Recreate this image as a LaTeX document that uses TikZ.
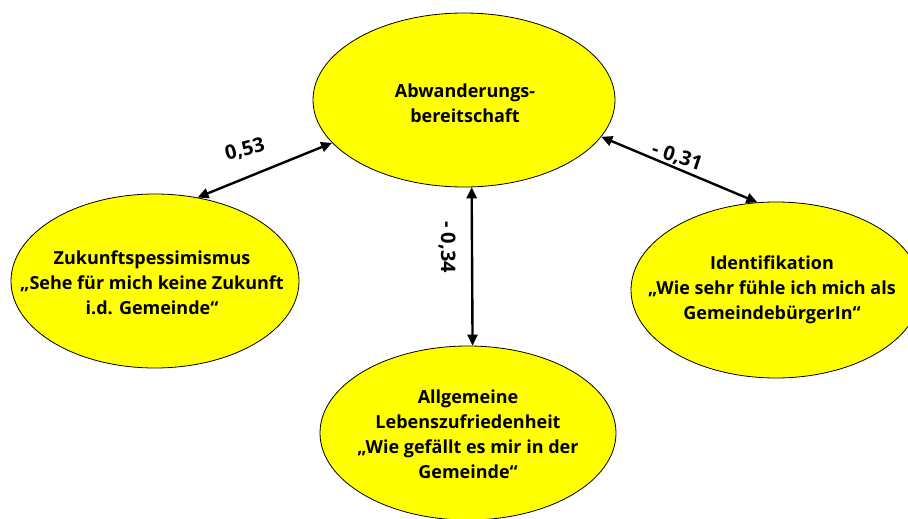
\documentclass[tikz,border=0pt]{standalone}
\usepackage{fontspec}
\setmainfont{Open Sans}
\usetikzlibrary{shapes.geometric,arrows.meta}
\tikzset{
  blob/.style={ellipse, draw=black, line width=0.8pt, fill=yellow, inner sep=0pt},
  txt/.style={font=\bfseries\fontsize{18}{25}\selectfont, align=center, inner sep=0pt},
  rel/.style={line width=2.4pt, {Triangle[length=11pt,width=10pt]}-{Triangle[length=11pt,width=10pt]}},
  val/.style={font=\bfseries\fontsize{20}{22}\selectfont, inner sep=0pt}
}
\definecolor{yellow}{RGB}{255,255,0}
\begin{document}
\begin{tikzpicture}[x=1pt,y=-1pt]
\useasboundingbox (0,0) rectangle (908,519);
\clip (0,0) rectangle (908,519);
\node[blob, minimum width=302pt, minimum height=174pt] (T) at (464,100) {};
\node[txt] (Tt) at (465,103) {Abwanderungs-\\bereitschaft};
\node[blob, minimum width=288pt, minimum height=174pt] (L) at (155,281) {};
\node[txt] (Lt) at (152,283) {Zukunftspessimismus\\„Sehe für mich keine Zukunft\\i.d. Gemeinde“};
\node[blob, minimum width=290pt, minimum height=176pt] (R) at (776,290) {};
\node[txt] (Rt) at (772,290) {Identifikation\\„Wie sehr fühle ich mich als\\GemeindebürgerIn“};
\node[blob, minimum width=296pt, minimum height=174pt] (B) at (468,433) {};
\node[txt] (Bt) at (468,434) {Allgemeine\\Lebenszufriedenheit\\„Wie gefällt es mir in der\\Gemeinde“};
\draw[rel] (L.63) -- (T.198);
\draw[rel] (T.-85) -- (B.87);
\draw[rel] (T.-15) -- (R.102);
\node[val, rotate=15] (v1) at (245,150) {0,53};
\node[val, rotate=-18] (v2) at (677,157) {- 0,31};
\node[val, rotate=-90] (v3) at (447,247) {- 0,34};
\end{tikzpicture}
\end{document}
